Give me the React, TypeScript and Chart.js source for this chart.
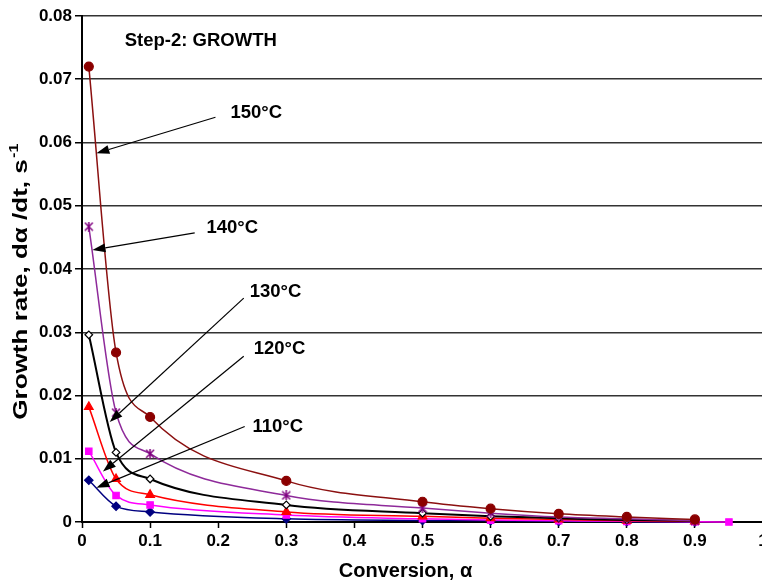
import React, { useEffect, useRef } from "react";
import { Chart, registerables } from "chart.js";

Chart.register(...registerables);

// ---------------- data ----------------
const conversion = [0.01, 0.05, 0.1, 0.3, 0.5, 0.6, 0.7, 0.8, 0.9];
const conversionExt = [0.01, 0.05, 0.1, 0.3, 0.5, 0.6, 0.7, 0.8, 0.9, 0.95];

const rate150 = [0.072, 0.0268, 0.0166, 0.0065, 0.0032, 0.0021, 0.0013, 0.0008, 0.0004];
const rate140 = [0.0467, 0.0173, 0.0108, 0.0042, 0.0022, 0.0014, 0.0008, 0.0005, 0.0002];
const rate130 = [0.0296, 0.011, 0.0068, 0.0027, 0.0014, 0.0009, 0.0006, 0.0003, 0.0002];
const rate120 = [0.0182, 0.0068, 0.0043, 0.0016, 0.0009, 0.0006, 0.0004, 0.0002, 0.0001];
const rateMag = [0.0112, 0.0042, 0.0027, 0.0011, 0.0005, 0.0003, 0.0002, 0.0001, 0.00005, 0.0];
const rate110 = [0.0066, 0.0025, 0.0016, 0.0005, 0.00025, 0.0002, 0.0001, 0.00005, 0.0];

const xTicks = [0, 0.1, 0.2, 0.3, 0.4, 0.5, 0.6, 0.7, 0.8, 0.9, 1];
const yTicks = [0, 0.01, 0.02, 0.03, 0.04, 0.05, 0.06, 0.07, 0.08];

const xTitle = "Conversion, α";
const yTitleMain = "Growth rate, dα /dt, s";
const yTitleSup = "-1";
const stepLabel = "Step-2: GROWTH";

// annotation labels (data coordinates): text, text x/y, arrow start x/y, arrow tip x/y
const labelTexts = ["150°C", "140°C", "130°C", "120°C", "110°C"];
const labelX = [0.218, 0.1827, 0.2463, 0.2521, 0.2502];
const labelY = [0.0647, 0.0465, 0.0363, 0.0274, 0.0151];
const arrowFromX = [0.196, 0.1655, 0.2375, 0.2375, 0.2389];
const arrowFromY = [0.064, 0.0457, 0.0354, 0.0262, 0.0151];
const arrowToX = [0.0211, 0.0153, 0.0407, 0.0308, 0.0211];
const arrowToY = [0.0583, 0.043, 0.0158, 0.008, 0.0054];

const stepLabelX = 0.0627;
const stepLabelY = 0.0761;
const xTitleAt = 0.475;
const yTitleAt = 0.038;

const FONT = '"Liberation Sans", Arial, Helvetica, sans-serif';

function toPoints(xs: number[], ys: number[]) {
  return ys.map((y, i) => ({ x: xs[i], y }));
}

function makeStar(color: string, size: number) {
  const c = document.createElement("canvas");
  c.width = size;
  c.height = size;
  const g = c.getContext("2d")!;
  g.strokeStyle = color;
  g.lineWidth = 1.5;
  const m = 1;
  g.beginPath();
  g.moveTo(m, m);
  g.lineTo(size - m, size - m);
  g.moveTo(size - m, m);
  g.lineTo(m, size - m);
  g.moveTo(size / 2, 0);
  g.lineTo(size / 2, size);
  g.stroke();
  return c;
}

const annotationPlugin = {
  id: "annotations",
  afterDatasetsDraw(chart: any) {
    const ctx = chart.ctx as CanvasRenderingContext2D;
    const xs = chart.scales.x;
    const ys = chart.scales.y;
    ctx.save();
    ctx.fillStyle = "#000";
    ctx.strokeStyle = "#000";
    ctx.textBaseline = "middle";
    ctx.textAlign = "left";
    ctx.font = `bold 18.5px ${FONT}`;
    ctx.fillText(stepLabel, xs.getPixelForValue(stepLabelX), ys.getPixelForValue(stepLabelY));
    for (let i = 0; i < labelTexts.length; i++) {
      ctx.font = `bold 18.5px ${FONT}`;
      ctx.fillText(labelTexts[i], xs.getPixelForValue(labelX[i]), ys.getPixelForValue(labelY[i]));
      const x1 = xs.getPixelForValue(arrowFromX[i]);
      const y1 = ys.getPixelForValue(arrowFromY[i]);
      const x2 = xs.getPixelForValue(arrowToX[i]);
      const y2 = ys.getPixelForValue(arrowToY[i]);
      const ang = Math.atan2(y2 - y1, x2 - x1);
      const len = 13;
      const half = 4.5;
      const bx = x2 - len * Math.cos(ang);
      const by = y2 - len * Math.sin(ang);
      ctx.lineWidth = 1.2;
      ctx.beginPath();
      ctx.moveTo(x1, y1);
      ctx.lineTo(bx, by);
      ctx.stroke();
      ctx.beginPath();
      ctx.moveTo(x2, y2);
      ctx.lineTo(bx + half * Math.sin(ang), by - half * Math.cos(ang));
      ctx.lineTo(bx - half * Math.sin(ang), by + half * Math.cos(ang));
      ctx.closePath();
      ctx.fill();
    }
    ctx.restore();
  },
  afterDraw(chart: any) {
    const ctx = chart.ctx as CanvasRenderingContext2D;
    const xs = chart.scales.x;
    const ys = chart.scales.y;
    ctx.save();
    ctx.fillStyle = "#000";
    ctx.font = `bold 20px ${FONT}`;
    ctx.textAlign = "center";
    ctx.textBaseline = "middle";
    ctx.fillText(xTitle, xs.getPixelForValue(xTitleAt), chart.height - 10);
    // y title
    const cy = ys.getPixelForValue(yTitleAt);
    ctx.translate(21, cy);
    ctx.rotate(-Math.PI / 2);
    ctx.scale(1.24, 1);
    ctx.textAlign = "left";
    const mainFont = `bold 21px ${FONT}`;
    const supFont = `bold 13px ${FONT}`;
    ctx.font = mainFont;
    const w1 = ctx.measureText(yTitleMain).width;
    ctx.font = supFont;
    const w2 = ctx.measureText(yTitleSup).width;
    const start = -(w1 + w2 + 1) / 2;
    ctx.font = mainFont;
    ctx.fillText(yTitleMain, start, 0);
    ctx.font = supFont;
    ctx.fillText(yTitleSup, start + w1 + 1, -7);
    ctx.restore();
  },
};

export default function App() {
  const ref = useRef<HTMLCanvasElement | null>(null);
  useEffect(() => {
    if (!ref.current) return;
    const W = 780;
    const H = 581;
    const star = makeStar("#800080", 10);
    const common = {
      cubicInterpolationMode: "monotone" as const,
      clip: false as const,
      pointBorderWidth: 1.2,
    };
    const chart = new Chart(ref.current, {
      type: "line",
      data: {
        datasets: [
          {
            ...common,
            label: "150°C",
            data: toPoints(conversion, rate150),
            borderColor: "#8B1010",
            backgroundColor: "#8B0000",
            borderWidth: 1.5,
            pointStyle: "circle",
            pointRadius: 4.5,
            pointBorderColor: "#8B0000",
            pointBackgroundColor: "#8B0000",
          },
          {
            ...common,
            label: "140°C",
            data: toPoints(conversion, rate140),
            borderColor: "#8E2A9A",
            backgroundColor: "#800080",
            borderWidth: 1.5,
            pointStyle: star as any,
            pointRadius: 5,
          },
          {
            ...common,
            label: "130°C",
            data: toPoints(conversion, rate130),
            borderColor: "#000000",
            backgroundColor: "#ffffff",
            borderWidth: 2,
            pointStyle: "rectRot",
            pointRadius: 3.8,
            pointBorderColor: "#000000",
            pointBackgroundColor: "#ffffff",
          },
          {
            ...common,
            label: "120°C",
            data: toPoints(conversion, rate120),
            borderColor: "#FF0000",
            backgroundColor: "#FF0000",
            borderWidth: 1.5,
            pointStyle: "triangle",
            pointRadius: 5,
            pointBorderColor: "#FF0000",
            pointBackgroundColor: "#FF0000",
          },
          {
            ...common,
            label: "magenta",
            data: toPoints(conversionExt, rateMag),
            borderColor: "#FF00FF",
            backgroundColor: "#FF00FF",
            borderWidth: 1.5,
            pointStyle: "rect",
            pointRadius: 4.5,
            pointBorderColor: "#FF00FF",
            pointBackgroundColor: "#FF00FF",
          },
          {
            ...common,
            label: "110°C",
            data: toPoints(conversion, rate110),
            borderColor: "#000080",
            backgroundColor: "#000080",
            borderWidth: 1.5,
            pointStyle: "rectRot",
            pointRadius: 4.2,
            pointBorderColor: "#000080",
            pointBackgroundColor: "#000080",
          },
        ],
      },
      options: {
        responsive: false,
        animation: false,
        devicePixelRatio: 1,
        layout: { padding: { left: 0, top: 16, right: W - 763, bottom: 0 } },
        plugins: {
          legend: { display: false },
          tooltip: { enabled: false },
          title: { display: false },
        },
        scales: {
          x: {
            type: "linear",
            min: 0,
            max: 1,
            afterFit: (s: any) => {
              s.height = H - 522;
            },
            afterBuildTicks: (s: any) => {
              s.ticks = xTicks.map((v) => ({ value: v }));
            },
            ticks: {
              color: "#000",
              font: { family: FONT, size: 17, weight: "bold" },
              padding: 3,
              maxRotation: 0,
              autoSkip: false,
              callback: (v: any) => {
                const n = Math.round(Number(v) * 10) / 10;
                return n === 0 ? "0" : n === 1 ? "1" : n.toFixed(1);
              },
            },
            grid: {
              drawOnChartArea: false,
              drawTicks: true,
              tickLength: 6,
              tickColor: "#000",
              tickWidth: 1.5,
            },
            border: { color: "#000", width: 2 },
          },
          y: {
            type: "linear",
            min: 0,
            max: 0.08,
            afterFit: (s: any) => {
              s.width = 82;
            },
            afterBuildTicks: (s: any) => {
              s.ticks = yTicks.map((v) => ({ value: v }));
            },
            ticks: {
              color: "#000",
              font: { family: FONT, size: 17, weight: "bold" },
              padding: 3,
              autoSkip: false,
              callback: (v: any) => {
                const n = Math.round(Number(v) * 100) / 100;
                return n === 0 ? "0" : n.toFixed(2);
              },
            },
            grid: {
              color: "#333",
              lineWidth: 1.5,
              drawTicks: true,
              tickLength: 7,
              tickColor: "#000",
              tickWidth: 1.5,
            },
            border: { color: "#000", width: 2 },
          },
        },
      },
      plugins: [annotationPlugin],
    });
    return () => chart.destroy();
  }, []);
  return (
    <div
      style={{
        position: "fixed",
        left: 0,
        top: 0,
        width: 762,
        height: 581,
        overflow: "hidden",
        background: "#fff",
      }}
    >
      <canvas ref={ref} width={780} height={581} style={{ display: "block" }} />
    </div>
  );
}
